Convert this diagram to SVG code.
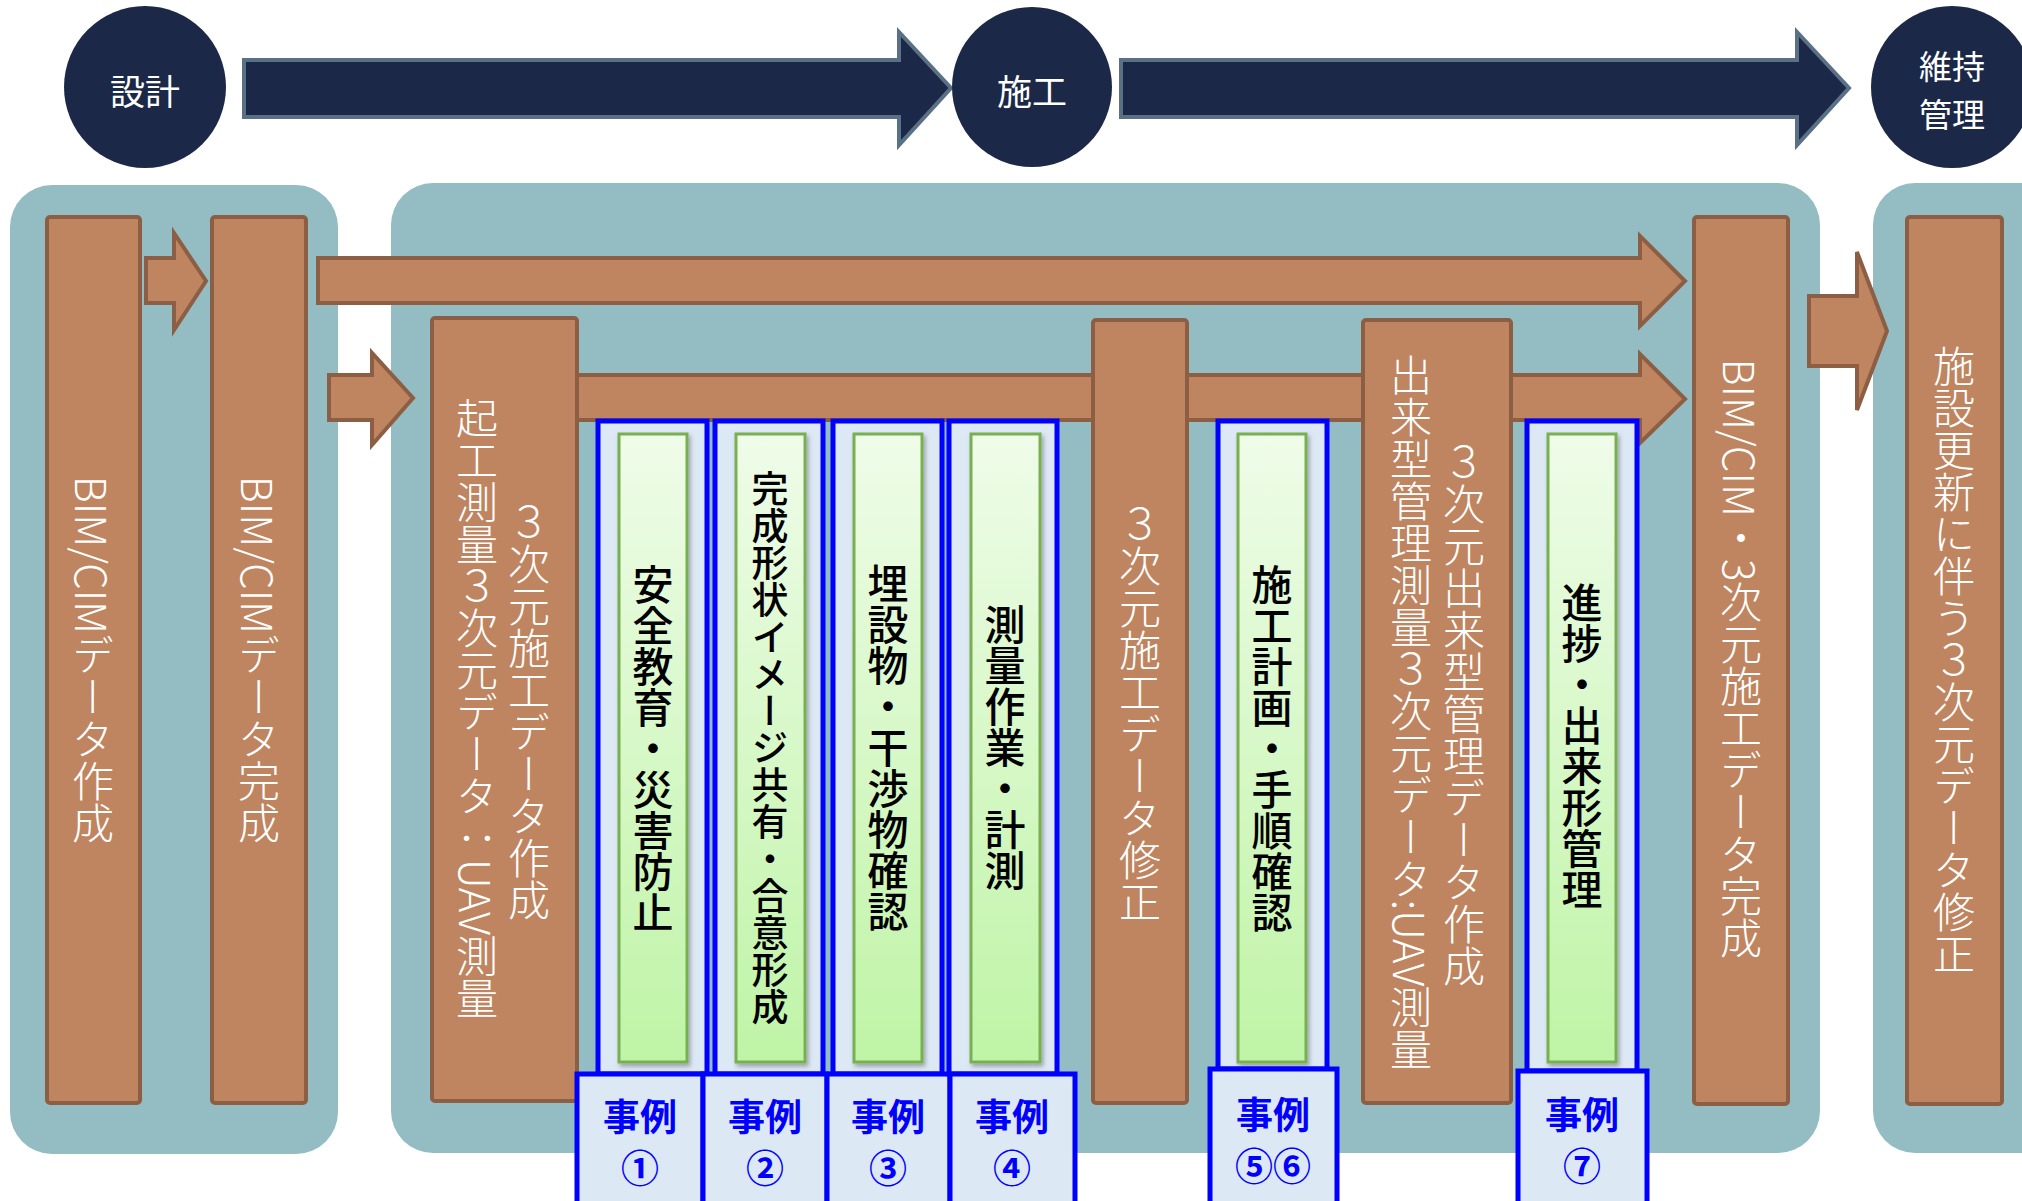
<svg xmlns="http://www.w3.org/2000/svg" width="2022" height="1201" viewBox="0 0 2022 1201">
<defs>
<linearGradient id="gr" x1="0" y1="0" x2="0" y2="1">
<stop offset="0" stop-color="#effce9"/>
<stop offset="1" stop-color="#bff4a6"/>
</linearGradient>
<filter id="sh" x="-20%" y="-5%" width="140%" height="110%">
<feDropShadow dx="2" dy="3" stdDeviation="2" flood-color="#000" flood-opacity="0.3"/>
</filter>
<style>
.panel{fill:#94bcc3}
.brown{fill:#bf8560;stroke:#8c5f45;stroke-width:4}
.navy{fill:#1b2847}
.navarrow{fill:#1b2847;stroke:#5a7085;stroke-width:4}
.frame{fill:#dde8f5;stroke:#0000ff;stroke-width:5}
.green{fill:url(#gr);stroke:#78b050;stroke-width:3;filter:url(#sh)}
.vt{writing-mode:vertical-rl;font-family:"Noto Sans CJK JP",sans-serif;text-anchor:middle}
.wt{fill:#ffffff;font-size:42px;font-weight:300}
.bt{fill:#000000;font-size:41px;font-weight:500}
.ct{fill:#ffffff;font-family:"Noto Sans CJK JP",sans-serif;font-size:35px;text-anchor:middle;dominant-baseline:central}
.ct2{font-size:33px}
.ex{fill:#0000ff;font-family:"Noto Sans CJK JP",sans-serif;font-size:37px;font-weight:700;text-anchor:middle;dominant-baseline:central}
.num{font-size:38px}
</style>
</defs>
<rect width="2022" height="1201" fill="#ffffff"/>

<g id="panels">
<rect class="panel" x="10" y="185" width="328" height="969" rx="42"/>
<rect class="panel" x="391" y="183" width="1429" height="970" rx="42"/>
<rect class="panel" x="1873" y="183" width="190" height="970" rx="42"/>
</g>

<g id="connectors">
<polygon class="navarrow" points="244,60 899,60 899,32 951,88 899,145 899,117 244,117"/>
<polygon class="navarrow" points="1121,60 1797,60 1797,32 1849,88 1797,145 1797,117 1121,117"/>
<polygon class="brown" points="146,258 174,258 174,233 206,281 174,330 174,303 146,303"/>
<polygon class="brown" points="318,258 1640,258 1640,236 1685,281 1640,326 1640,303 318,303"/>
<polygon class="brown" points="329,375 372,375 372,353 413,398 372,445 372,420 329,420"/>
<polygon class="brown" points="577,375 1640,375 1640,354 1685,399 1640,443 1640,420 577,420"/>
<polygon class="brown" points="1809,296 1857,296 1857,252 1887,331 1857,410 1857,366 1809,366"/>
</g>

<g id="node-sekkei">
<circle class="navy" cx="145" cy="87" r="81"/>
<text class="ct" x="145" y="89">設計</text>
</g>
<g id="node-seko">
<circle class="navy" cx="1032" cy="87" r="80"/>
<text class="ct" x="1032" y="89">施工</text>
</g>
<g id="node-iji">
<circle class="navy" cx="1952" cy="87" r="81"/>
<text class="ct ct2" x="1952" y="65">維持</text>
<text class="ct ct2" x="1952" y="113">管理</text>
</g>

<g id="node-bim-sakusei">
<rect class="brown" x="47" y="217" width="93" height="886" rx="3"/>
<text class="vt wt" x="93" y="660">BIM/CIMデータ作成</text>
</g>
<g id="node-bim-kansei">
<rect class="brown" x="212" y="217" width="94" height="886" rx="3"/>
<text class="vt wt" x="259" y="660">BIM/CIMデータ完成</text>
</g>
<g id="node-kiko">
<rect class="brown" x="432" y="318" width="145" height="783" rx="3"/>
<text class="vt wt" x="529" y="711">３次元施工データ作成</text>
<text class="vt wt" x="477" y="708">起工測量３次元データ：UAV測量</text>
</g>
<g id="node-shusei">
<rect class="brown" x="1093" y="320" width="94" height="783" rx="3"/>
<text class="vt wt" x="1140" y="713">３次元施工データ修正</text>
</g>
<g id="node-dekigata">
<rect class="brown" x="1363" y="320" width="148" height="783" rx="3"/>
<text class="vt wt" x="1464" y="714">３次元出来型管理データ作成</text>
<text class="vt wt" x="1411" y="712">出来型管理測量３次元データ:UAV測量</text>
</g>
<g id="node-bim-3d-kansei">
<rect class="brown" x="1694" y="217" width="94" height="887" rx="3"/>
<text class="vt wt" x="1741" y="659">BIM/CIM・3次元施工データ完成</text>
</g>
<g id="node-koshin">
<rect class="brown" x="1907" y="217" width="95" height="887" rx="3"/>
<text class="vt wt" x="1954" y="660">施設更新に伴う３次元データ修正</text>
</g>

<g id="case-1">
<rect class="frame" x="598" y="421" width="109" height="653"/>
<rect class="green" x="619" y="434" width="68" height="628"/>
<text class="vt bt" x="653" y="748">安全教育・災害防止</text>
<rect class="frame" x="577" y="1074" width="126" height="140"/>
<text class="ex" x="640" y="1115">事例</text>
<text class="ex num" x="640" y="1165">①</text>
</g>
<g id="case-2">
<rect class="frame" x="715" y="421" width="108" height="653"/>
<rect class="green" x="736" y="434" width="69" height="628"/>
<text class="vt bt" x="770" y="748" style="font-size:37px">完成形状イメージ共有・合意形成</text>
<rect class="frame" x="703" y="1074" width="124" height="140"/>
<text class="ex" x="765" y="1115">事例</text>
<text class="ex num" x="765" y="1165">②</text>
</g>
<g id="case-3">
<rect class="frame" x="833" y="421" width="109" height="653"/>
<rect class="green" x="854" y="434" width="68" height="628"/>
<text class="vt bt" x="888" y="747">埋設物・干渉物確認</text>
<rect class="frame" x="827" y="1074" width="123" height="140"/>
<text class="ex" x="888" y="1115">事例</text>
<text class="ex num" x="888" y="1165">③</text>
</g>
<g id="case-4">
<rect class="frame" x="949" y="421" width="108" height="653"/>
<rect class="green" x="971" y="434" width="69" height="628"/>
<text class="vt bt" x="1005" y="747">測量作業・計測</text>
<rect class="frame" x="950" y="1074" width="125" height="140"/>
<text class="ex" x="1012" y="1115">事例</text>
<text class="ex num" x="1012" y="1165">④</text>
</g>
<g id="case-5-6">
<rect class="frame" x="1218" y="421" width="109" height="648"/>
<rect class="green" x="1238" y="434" width="68" height="628"/>
<text class="vt bt" x="1272" y="748">施工計画・手順確認</text>
<rect class="frame" x="1210" y="1069" width="127" height="145"/>
<text class="ex" x="1273" y="1113">事例</text>
<text class="ex num" x="1273" y="1163">⑤⑥</text>
</g>
<g id="case-7">
<rect class="frame" x="1527" y="421" width="110" height="650"/>
<rect class="green" x="1548" y="434" width="68" height="628"/>
<text class="vt bt" x="1582" y="746">進捗・出来形管理</text>
<rect class="frame" x="1518" y="1071" width="129" height="143"/>
<text class="ex" x="1582" y="1113">事例</text>
<text class="ex num" x="1582" y="1163">⑦</text>
</g>
</svg>
